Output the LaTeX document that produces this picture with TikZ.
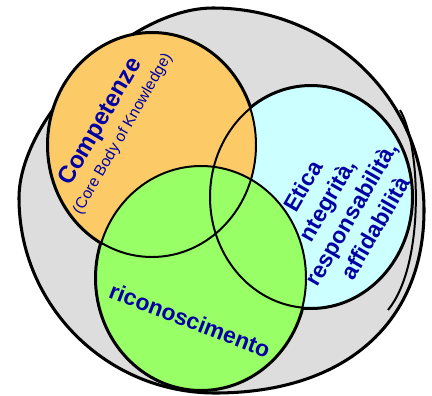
\documentclass[tikz,border=0pt]{standalone}
\usepackage{fontspec}
\setmainfont{Liberation Sans}
\definecolor{greyfill}{RGB}{221,221,221}
\definecolor{orangefill}{RGB}{253,202,104}
\definecolor{greenfill}{RGB}{153,255,102}
\definecolor{cyanfill}{RGB}{204,255,255}
\definecolor{textblue}{RGB}{0,0,165}
\tikzset{
	venntext/.style={text=textblue, font=\bfseries\fontsize{19.5}{23.8}\selectfont, inner sep=0pt},
	thickrim/.style={line width=3.4pt},
	thinrim/.style={line width=1.7pt}
}

\begin{document}
\begin{tikzpicture}[x=0.03cm, y=-0.03cm]
		\useasboundingbox (0,0) rectangle (432,395);
		
		\draw[fill=greyfill, line width=2.6pt] (213,8) .. controls (329,8) and (424,98) .. (424,210)
			.. controls (424,323) and (345,393) .. (215,393) .. controls (107,393) and (19,306) .. (19,198)
			.. controls (19,118) and (128,8) .. cycle;
		\draw[line width=1.7pt] (400,110) .. controls (421,145) and (425,265) .. (388,310);
		
		% rims first, then the fills, then thin rims over all
		\foreach \c/\rx/\ry in {(311,197)/101/111, (152,145)/104/112, (201,278)/105/112}{
			\draw[thickrim] \c ellipse ({\rx} and {\ry});
		}
		\fill[cyanfill] (311,197) ellipse (101 and 111);
		\fill[orangefill] (152,145) ellipse (104 and 112);
		\fill[greenfill] (201,278) ellipse (105 and 112);
		\foreach \c/\rx/\ry in {(311,197)/101/111, (152,145)/104/112, (201,278)/105/112}{
			\draw[thinrim] \c ellipse ({\rx} and {\ry});
		}
		
		\node[venntext, font=\bfseries\fontsize{20.5}{24}\selectfont, rotate=60] (comp) at (101,122) {Competenze};
		\node[text=textblue, inner sep=0pt, font=\fontsize{13.3}{16}\selectfont, rotate=60] (cbok) at (123,134) {(Core Body of Knowledge)};
		\node[venntext, rotate=60, align=center] (etica) at (339,207) {Etica\\ntegrità,\\responsabilità,\\affidabilità};
		\node[venntext, rotate=-21] (ricon) at (190,320) {riconoscimento};
	\end{tikzpicture}
\end{document}
